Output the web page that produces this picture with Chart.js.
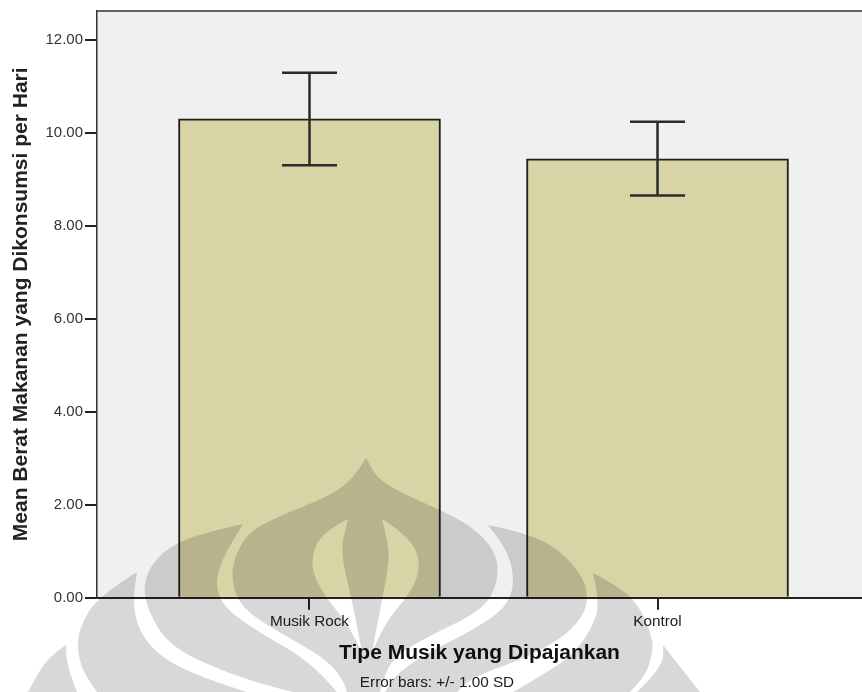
<!DOCTYPE html>
<html>
<head>
<meta charset="utf-8">
<title>Mean Berat Makanan</title>
<script src="https://cdn.jsdelivr.net/npm/chart.js@4"></script>
<style>
    html, body { margin: 0; padding: 0; background: #fff; }
    canvas { display: block; }
</style>
</head>
<body>
<canvas id="bar-chart" width="862" height="692"></canvas>
<script>
const categories = ['Musik Rock', 'Kontrol'];
const means = [10.3, 9.44];
const errorUpper = [11.29, 10.24];
const errorLower = [9.3, 8.65];
const yTicks = [0, 2, 4, 6, 8, 10, 12];

const FONT = '"Liberation Sans", Arial, sans-serif';

// background watermark, page pixels. each lobe is two edges running from its tip
const lobes = [
    // centre
    [[[366, 458], [353, 480], [327, 497], [277, 517], [247, 533], [232, 563], [233, 590], [247, 613], [293, 640], [327, 660], [343, 680], [347, 692]],
     [[366, 458], [380, 483], [440, 510], [473, 527], [497, 553], [498, 583], [483, 610], [427, 637], [397, 655], [385, 672], [380, 692]]],
    // left
    [[[243, 524], [193, 535], [160, 553], [143, 580], [147, 610], [170, 647], [227, 673], [273, 687], [293, 692]],
     [[243, 524], [223, 557], [215, 583], [223, 607], [260, 633], [313, 663], [337, 692]]],
    [[[137, 572], [97, 597], [80, 627], [77, 647], [82, 670], [97, 692]],
     [[137, 572], [133, 600], [138, 630], [160, 657], [200, 677], [247, 692]]],
    [[[66, 645], [47, 657], [28, 692]],
     [[66, 645], [67, 667], [77, 692]]],
    // right
    [[[488, 525], [527, 533], [560, 550], [583, 577], [588, 597], [583, 617], [560, 640], [520, 660], [473, 677], [457, 692]],
     [[488, 525], [507, 550], [515, 580], [507, 607], [473, 630], [427, 653], [393, 676], [385, 692]]],
    [[[593, 573], [620, 587], [640, 607], [652, 637], [653, 650], [647, 673], [630, 692]],
     [[593, 573], [598, 597], [597, 617], [580, 647], [557, 667], [513, 692]]],
    [[[663, 645], [700, 692]],
     [[663, 645], [663, 667], [637, 692]]]
];
const lobeHoles = [
    [[[348, 519], [320, 533], [310, 563], [320, 590], [347, 623], [362, 652]],
     [[348, 519], [342, 543], [343, 563], [352, 600], [362, 652]]],
    [[[382, 519], [410, 537], [421, 563], [413, 590], [387, 620], [372, 652]],
     [[382, 519], [388, 543], [389, 563], [382, 600], [372, 652]]]
];

const traceEdge = (ctx, pts) => {
    for (let i = 1; i < pts.length - 1; i++) {
        const mx = (pts[i][0] + pts[i + 1][0]) / 2;
        const my = (pts[i][1] + pts[i + 1][1]) / 2;
        ctx.quadraticCurveTo(pts[i][0], pts[i][1], mx, my);
    }
    const last = pts[pts.length - 1];
    ctx.lineTo(last[0], last[1]);
};

const traceLobe = (ctx, lobe) => {
    const [a, b] = lobe;
    ctx.moveTo(a[0][0], a[0][1]);
    traceEdge(ctx, a);
    const back = b.slice().reverse();
    ctx.lineTo(back[0][0], back[0][1]);
    traceEdge(ctx, back);
    ctx.closePath();
};

const plotFrame = {
    id: 'plotFrame',
    beforeDraw(chart) {
        const { ctx, chartArea: { left, top, right, bottom } } = chart;
        ctx.save();
        ctx.fillStyle = '#f0f0f0';
        ctx.fillRect(left, top, right - left, bottom - top);
        ctx.strokeStyle = '#333333';
        ctx.lineWidth = 1.5;
        ctx.beginPath();
        ctx.moveTo(left, top);
        ctx.lineTo(right, top);
        ctx.stroke();
        ctx.restore();
    }
};

const errorBars = {
    id: 'errorBars',
    afterDatasetsDraw(chart) {
        const { ctx, scales: { x, y } } = chart;
        ctx.save();
        ctx.strokeStyle = '#2b2b2b';
        ctx.lineWidth = 2.5;
        categories.forEach((name, i) => {
            const px = x.getPixelForValue(i);
            const hi = y.getPixelForValue(errorUpper[i]);
            const lo = y.getPixelForValue(errorLower[i]);
            ctx.beginPath();
            ctx.moveTo(px, hi);
            ctx.lineTo(px, lo);
            ctx.moveTo(px - 27.5, hi);
            ctx.lineTo(px + 27.5, hi);
            ctx.moveTo(px - 27.5, lo);
            ctx.lineTo(px + 27.5, lo);
            ctx.stroke();
        });
        ctx.restore();
    }
};

const watermark = {
    id: 'watermark',
    afterDraw(chart) {
        const { ctx } = chart;
        ctx.save();
        ctx.globalCompositeOperation = 'multiply';
        ctx.fillStyle = '#d8d8d8';
        lobes.forEach((lobe, i) => {
            ctx.beginPath();
            traceLobe(ctx, lobe);
            if (i === 0) {
                lobeHoles.forEach(h => traceLobe(ctx, h));
            }
            ctx.fill('evenodd');
        });
        ctx.restore();
    }
};

new Chart(document.getElementById('bar-chart').getContext('2d'), {
    type: 'bar',
    data: {
        datasets: [{
            data: categories.map((c, i) => ({ x: i, y: means[i] })),
            backgroundColor: '#d9d4a5',
            borderColor: '#1f1f1f',
            borderWidth: 2,
            barThickness: 262
        }]
    },
    plugins: [plotFrame, errorBars, watermark],
    options: {
        responsive: false,
        animation: false,
        // left padding moves the bottom note to the right, the y axis gets it back below
        layout: { padding: { top: 11, left: 12, right: 0, bottom: 0 } },
        plugins: {
            legend: { display: false },
            tooltip: { enabled: false },
            title: {
                display: true,
                position: 'bottom',
                text: 'Error bars: +/- 1.00 SD',
                color: '#222222',
                font: { family: FONT, size: 15.3, weight: 'normal' },
                padding: { top: 2, bottom: 0 }
            }
        },
        scales: {
            x: {
                type: 'linear',
                offset: false,
                min: -0.6106,
                max: 1.5876,
                afterBuildTicks: axis => { axis.ticks = categories.map((c, i) => ({ value: i })); },
                afterFit: axis => { axis.height = 94 - 20; },
                grid: { offset: false, drawOnChartArea: false, color: '#222222', lineWidth: 2, tickLength: 12 },
                border: { color: '#222222', width: 2 },
                ticks: {
                    callback: v => categories[v],
                    color: '#222222',
                    font: { family: FONT, size: 15.3 },
                    padding: 3,
                    maxRotation: 0,
                    autoSkip: false
                },
                title: {
                    display: true,
                    text: 'Tipe Musik yang Dipajankan',
                    color: '#111111',
                    font: { family: FONT, size: 21, weight: 'bold' },
                    padding: { top: 6, bottom: 6 }
                }
            },
            y: {
                min: 0,
                max: 12.62,
                afterBuildTicks: axis => { axis.ticks = yTicks.map(v => ({ value: v })); },
                afterFit: axis => { axis.width = 85; },
                grid: { drawOnChartArea: false, color: '#222222', lineWidth: 2, tickLength: 12 },
                border: { color: '#333333', width: 1.5 },
                ticks: {
                    callback: v => v.toFixed(2),
                    color: '#333333',
                    font: { family: FONT, size: 15 },
                    padding: 2
                },
                title: {
                    display: true,
                    text: 'Mean Berat Makanan yang Dikonsumsi per Hari',
                    color: '#222222',
                    font: { family: FONT, size: 21, weight: 'bold' },
                    padding: { top: -3.6, bottom: 0 }
                }
            }
        }
    }
});
</script>
</body>
</html>
